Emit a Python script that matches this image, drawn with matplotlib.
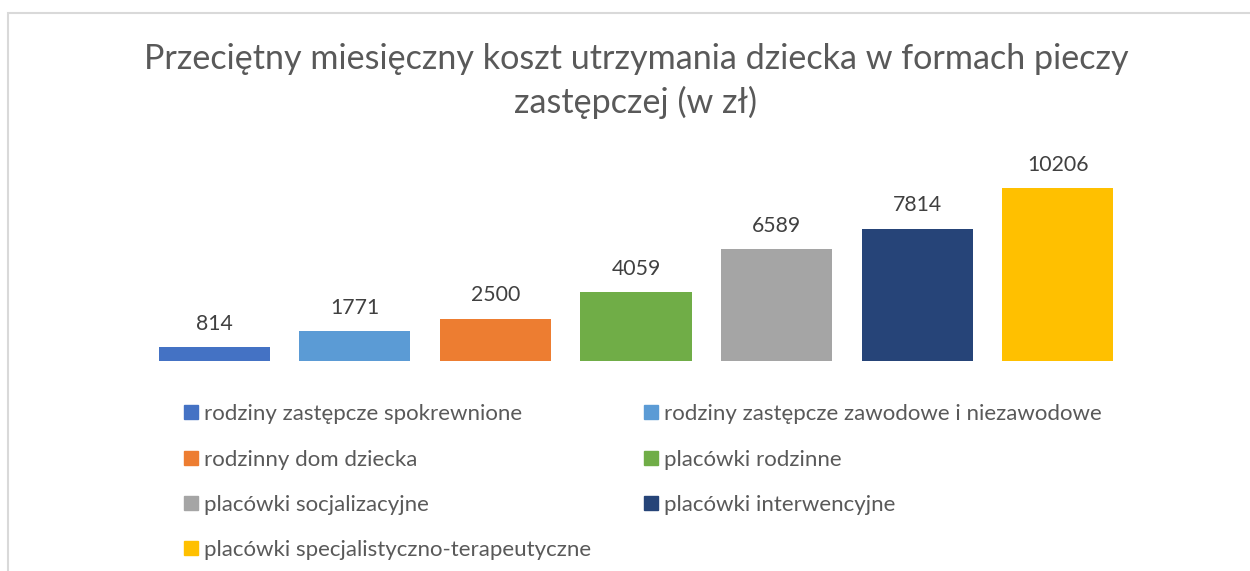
import matplotlib
matplotlib.use("Agg")
import matplotlib.pyplot as plt
from matplotlib.patches import Rectangle

# data
categories = [
    "rodziny zastępcze spokrewnione",
    "rodziny zastępcze zawodowe i niezawodowe",
    "rodzinny dom dziecka",
    "placówki rodzinne",
    "placówki socjalizacyjne",
    "placówki interwencyjne",
    "placówki specjalistyczno-terapeutyczne",
]
values = [814, 1771, 2500, 4059, 6589, 7814, 10206]
colors = ["#4472C4", "#5B9BD5", "#ED7D31", "#70AD47", "#A5A5A5", "#264478", "#FFC000"]
title_lines = ["Przeciętny miesięczny koszt utrzymania dziecka w formach pieczy",
               "zastępczej (w zł)"]

plt.rcParams["font.family"] = ["Lato", "DejaVu Sans"]

W, H = 1250, 571
fig = plt.figure(figsize=(W / 100, H / 100), dpi=100)

# chart frame (cut off on right and bottom like the screenshot)
fig.patches.append(Rectangle((8 / W, -0.1), 1.2, (H - 13) / H + 0.1, transform=fig.transFigure,
                             fill=False, edgecolor="#D9D9D9", linewidth=1.5))

# title, one text per line, placed on the baselines seen in the reference
for line, base in zip(title_lines, [69, 113]):
    fig.text(636 / W, 1 - base / H, line, ha="center", va="baseline", fontsize=24.6,
             color="#595959")

# plot area in pixel coords
ax = fig.add_axes([144 / W, 210 / H, 984 / W, 203.2 / H])
x = list(range(len(values)))
ax.bar(x, values, width=0.79, color=colors)
ax.set_xlim(-0.5, len(values) - 0.5)
ax.set_ylim(0, 12000)
ax.axis("off")

for xi, v in zip(x, values):
    ax.annotate(str(v), (xi, v), xytext=(0, 12.5), textcoords="offset points",
                ha="center", va="baseline", fontsize=15.3, color="#404040")

# legend, two columns filled row by row
col_x = [184, 644]
row_y = [412, 458, 503, 548]
for i, (lab, c) in enumerate(zip(categories, colors)):
    cx = col_x[i % 2]
    cy = row_y[i // 2]
    fig.patches.append(Rectangle((cx / W, 1 - (cy + 7) / H), 14 / W, 14 / H,
                                 transform=fig.transFigure, color=c))
    fig.text((cx + 20) / W, 1 - cy / H, lab, ha="left", va="center_baseline",
             fontsize=16, color="#595959")

fig.savefig("out.png", dpi=100, facecolor="white")
